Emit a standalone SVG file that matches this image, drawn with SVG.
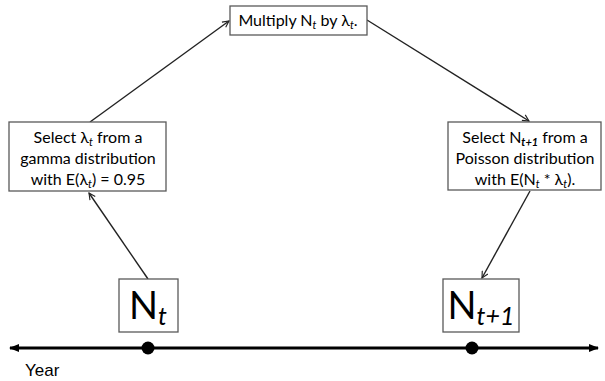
<svg xmlns="http://www.w3.org/2000/svg" width="605" height="381" viewBox="0 0 605 381">
<style>
.box{fill:#fff;stroke:#595959;stroke-width:1.3}
.t{font-family:Lato,"Open Sans","Liberation Sans",sans-serif;font-size:16px;fill:#000;text-anchor:middle}
.big{font-family:Lato,"Open Sans","Liberation Sans",sans-serif;font-size:38px;fill:#000;text-anchor:middle}
.c{stroke:#222;stroke-width:1.4;fill:none;marker-end:url(#ah)}
</style>
<defs>
<marker id="ah" viewBox="0 0 10 10" refX="9" refY="5" markerWidth="8" markerHeight="8" orient="auto" markerUnits="userSpaceOnUse">
<path d="M1,1 L9,5 L1,9" fill="none" stroke="#222" stroke-width="1.4"/>
</marker>
<marker id="tl" viewBox="0 0 10 10" refX="9" refY="5" markerWidth="12" markerHeight="10" orient="auto-start-reverse" markerUnits="userSpaceOnUse">
<path d="M0,1 L10,5 L0,9 Z" fill="#000"/>
</marker>
</defs>
<g id="connectors">
<line class="c" x1="148" y1="279" x2="89" y2="193"/>
<line class="c" x1="90" y1="122" x2="229" y2="21"/>
<line class="c" x1="367" y1="20" x2="529" y2="121"/>
<line class="c" x1="530" y1="191" x2="482" y2="278"/>
</g>
<g id="timeline">
<line x1="10" y1="348" x2="598" y2="348" stroke="#000" stroke-width="3" marker-start="url(#tl)" marker-end="url(#tl)"/>
<circle cx="148" cy="348" r="6.5" fill="#000"/>
<circle cx="472" cy="348" r="6.5" fill="#000"/>
<text x="25" y="376" style="font-family:'Liberation Sans',Arial,sans-serif;font-size:17px">Year</text>
</g>
<g id="multiply">
<rect class="box" x="230" y="6" width="137" height="29"/>
<text class="t" x="298" y="26">Multiply N<tspan font-style="italic" font-size="11" dy="3">t</tspan><tspan dy="-3"> by λ</tspan><tspan font-style="italic" font-size="11" dy="3">t</tspan><tspan dy="-3">.</tspan></text>
</g>
<g id="gamma">
<rect class="box" x="9" y="122" width="157" height="69"/>
<text class="t" x="88" y="143">Select λ<tspan font-style="italic" font-size="11" dy="3">t</tspan><tspan dy="-3"> from a</tspan></text>
<text class="t" x="88" y="164">gamma distribution</text>
<text class="t" x="88" y="185">with E(λ<tspan font-style="italic" font-size="11" dy="3">t</tspan><tspan dy="-3">) = 0.95</tspan></text>
</g>
<g id="poisson">
<rect class="box" x="448" y="122" width="153" height="68"/>
<text class="t" x="525" y="143">Select N<tspan font-style="italic" font-size="11" dy="3" font-weight="bold">t+1</tspan><tspan dy="-3"> from a</tspan></text>
<text class="t" x="525" y="164">Poisson distribution</text>
<text class="t" x="525" y="185">with E(N<tspan font-style="italic" font-size="11" dy="3">t</tspan><tspan dy="-3"> * λ</tspan><tspan font-style="italic" font-size="11" dy="3">t</tspan><tspan dy="-3">).</tspan></text>
</g>
<g id="Nt">
<rect class="box" x="119" y="279" width="59" height="53"/>
<text class="big" x="148" y="319">N<tspan font-style="italic" font-size="25" dy="6">t</tspan></text>
</g>
<g id="Nt1">
<rect class="box" x="443" y="279" width="76" height="53"/>
<text class="big" x="481" y="319">N<tspan font-style="italic" font-size="25" dy="6">t+1</tspan></text>
</g>
</svg>
